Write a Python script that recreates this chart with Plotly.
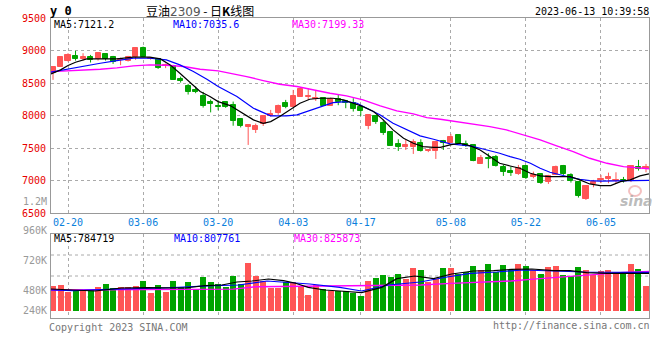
import plotly.graph_objects as go

# ---------------- data ----------------
dates = ["02-16","02-17","02-20","02-21","02-22","02-23","02-24","02-27","02-28",
         "03-01","03-02","03-03","03-06","03-07","03-08","03-09","03-10",
         "03-13","03-14","03-15","03-16","03-17","03-20","03-21","03-22","03-23","03-24",
         "03-27","03-28","03-29","03-30","03-31","04-03","04-04","04-06","04-07",
         "04-10","04-11","04-12","04-13","04-14","04-17","04-18","04-19","04-20","04-21",
         "04-24","04-25","04-26","04-27","04-28","05-04","05-05","05-08","05-09","05-10",
         "05-11","05-12","05-15","05-16","05-17","05-18","05-19","05-22","05-23","05-24",
         "05-25","05-26","05-29","05-30","05-31","06-01","06-02","06-05","06-06","06-07",
         "06-08","06-09","06-12","06-13"]
tick_dates = ["02-20","03-06","03-20","04-03","04-17","05-08","05-22","06-05"]

opens  = [8652,8754,8846,8923,8872,8898,8872,8949,8898,8862,8846,8908,9036,8872,8872,8770,8770,8562,8457,8400,
          8303,8206,8155,8211,8165,7948,7819,7778,7873,7996,8037,8201,8139,8293,8293,8257,8268,8150,8252,8227,
          8201,8139,7842,7996,7883,7755,7565,7525,7525,7575,7458,7463,7617,7575,7704,7565,7550,7258,7355,7371,
          7217,7156,7105,7228,7064,7105,6987,7095,7233,7090,6987,6715,6951,7013,7023,6997,7018,6997,7217,7182]
highs  = [8750,8915,8959,8995,8959,8933,8965,8955,8918,8890,8918,9051,9061,8900,8880,8800,8780,8600,8488,8447,
          8365,8247,8237,8225,8216,7948,7868,7878,8006,8088,8170,8242,8395,8421,8421,8395,8280,8278,8318,8242,
          8268,8165,8020,8000,7935,7760,7637,7627,7637,7637,7480,7610,7627,7719,7704,7617,7560,7396,7422,7396,
          7243,7217,7243,7243,7140,7110,7090,7233,7243,7115,6995,6930,7013,7090,7125,7130,7059,7238,7320,7258]
lows   = [8550,8750,8831,8846,8846,8816,8846,8846,8795,8775,8831,8857,8898,8860,8718,8730,8549,8508,8324,8345,
          8124,8050,8083,8120,7845,7819,7550,7734,7842,7986,8012,8114,8139,8293,8242,8226,8150,8150,8160,8114,
          8063,7996,7791,7873,7704,7535,7458,7473,7412,7448,7440,7335,7473,7575,7565,7520,7300,7258,7192,7218,
          7074,7074,7090,7028,7038,6951,6951,7090,7090,6972,6742,6705,6900,6962,6962,6962,6972,6980,7156,7130]
closes = [8744,8908,8933,8872,8898,8857,8959,8872,8831,8872,8908,9036,8898,8882,8739,8780,8549,8534,8370,8365,
          8155,8185,8135,8130,7924,7845,7855,7840,7996,8027,8150,8139,8303,8406,8303,8273,8150,8252,8216,8201,
          8104,8073,8012,7909,7740,7535,7525,7550,7601,7458,7473,7601,7586,7678,7565,7535,7309,7345,7340,7228,
          7140,7125,7192,7038,7090,6962,7074,7218,7105,7002,6772,6920,6987,7028,7059,7018,6997,7228,7182,7207]
volumes = [520,541,394,440,436,445,499,562,478,490,505,520,625,373,541,400,625,499,604,457,
           709,611,562,506,730,562,1010,730,625,485,485,597,597,499,331,541,457,415,415,415,
           380,310,625,688,752,709,772,667,899,857,604,667,899,899,772,815,941,857,983,815,
           962,857,983,941,857,772,920,941,752,730,920,857,752,836,857,773,773,983,878,520]
volumes = [v * 1000 for v in volumes]

# moving averages (bar index, value)
ma5_idx = [-0.27,1,2,3,4.5,6.3,8.5,10.7,12.9,14.3,15.6,16.9,18.3,19.6,20.9,22,23.6,24.9,26.7,28,29,30.2,31.6,
           32.9,34.2,35.6,37.3,38.7,40,41.3,42.7,44,45.3,46.7,48,49.3,50.7,51.6,52.9,54.2,55.6,56.9,58.2,59.5,
           60.9,62.2,63.6,64.9,66.2,67.5,68.9,70.2,71.5,72.9,74.3,75.6,76.9,78.2,79.4]
ma5_val = [8641,8703,8770,8820,8872,8872,8872,8898,8898,8872,8780,8652,8508,8370,8293,8216,8155,8063,7935,
           7883,7909,7986,8088,8191,8252,8267,8267,8242,8191,8139,8063,7935,7781,7653,7576,7525,7514,7514,
           7550,7576,7535,7473,7371,7268,7227,7192,7115,7074,7064,7064,7064,7013,6951,6925,6925,6987,7013,
           7074,7105]
ma10_idx = [-0.27,1.8,4,6.3,8.5,10.7,12.9,15.1,16.9,18.7,20.5,22,24.5,26.7,29,31.1,32.5,33.8,35.6,37.3,39.1,
            40.5,41.8,43.6,45.3,47.1,48.9,50.7,51.6,52.9,54.2,55.6,56.9,58.2,59.5,60.9,62.2,63.6,64.9,66.2,
            67.5,68.9,70.2,71.5,72.9,75.6,78.2,79.4]
ma10_val = [8667,8713,8754,8805,8846,8882,8882,8857,8780,8677,8559,8447,8293,8114,7996,7996,8011,8063,8139,
            8201,8216,8191,8114,8011,7883,7781,7689,7637,7610,7566,7550,7535,7499,7463,7422,7371,7330,7268,
            7192,7130,7090,7054,7023,7002,6995,6995,6998,7005]
ma30_idx = [-0.27,4,6.3,8.5,10.7,12.9,15.1,17.4,19.6,22,23.6,25.8,28,30.2,32.5,34.7,36.9,39.1,41.3,43.6,45.8,
            48,49.8,51.6,53.8,56,58.2,60.4,62.7,64.9,67.1,69.3,71.5,73.8,76,78.2,79.4]
ma30_val = [8677,8693,8713,8734,8764,8780,8775,8754,8713,8688,8652,8600,8539,8483,8447,8395,8344,8303,8242,
            8150,8073,8027,7970,7945,7909,7873,7832,7781,7704,7627,7535,7448,7345,7268,7217,7192,7185]

vma5_idx = [-0.27,5.6,9.1,12.5,17.6,20.2,22.5,24.5,26.5,28.7,30.7,32.2,34,36.2,38.2,41.1,43.8,45.8,48.2,50.7,
            53.1,56,58.7,61.1,63.8,66.7,68.9,71.1,73.8,77.3,79.4]
vma5_val = [457,415,478,485,478,527,541,604,625,667,632,583,492,436,415,380,492,674,730,674,772,836,843,870,
            878,843,843,800,787,787,785]
vma10_idx = [-0.27,2.7,7.4,14.7,21.4,24.7,28.5,34.2,38.2,41.1,44.7,48.9,52.5,55.6,59.1,62.6,66.7,70.7,76.2,79.4]
vma10_val = [436,422,450,478,527,541,625,562,492,415,541,604,709,787,815,857,836,815,808,808]
vma30_idx = [-0.27,12,24,27,36,44,49,53,57,61,64,68,72,76,79.4]
vma30_val = [436,448,455,505,515,520,541,575,600,625,665,705,760,805,826]
vma5_val = [v * 1000 for v in vma5_val]
vma10_val = [v * 1000 for v in vma10_val]
vma30_val = [v * 1000 for v in vma30_val]

price_ticks = [6500, 7000, 7500, 8000, 8500, 9000, 9500]
vol_tick_labels = ["960K", "720K", "480K", "240K"]
ma_labels = ["MA5:7121.2", "MA10:7035.6", "MA30:7199.33"]
vma_labels = ["MA5:784719", "MA10:807761", "MA30:825873"]

# ---------------- styles / geometry ----------------
RED, GREEN = "#ff5555", "#00a400"
MONO = "DejaVu Sans Mono"
W, H = 660, 360
PL, PR, PT, PB = 51, 649, 18, 318


def px(x):
    return (x - PL) / (PR - PL)


def py(y):
    return (PB - y) / (PB - PT)


n = len(dates)
idx = list(range(n))
up = [c >= o for o, c in zip(opens, closes)]
tickvals = [dates.index(d) for d in tick_dates]

fig = go.Figure()

# candle wicks
for flag, col in ((True, RED), (False, GREEN)):
    wx, wy = [], []
    for i in idx:
        if up[i] == flag:
            wx += [i, i, None]
            wy += [lows[i], highs[i], None]
    fig.add_trace(go.Scatter(x=wx, y=wy, mode="lines", line=dict(color=col, width=1),
                             hoverinfo="skip", xaxis="x", yaxis="y"))

# candle bodies
fig.add_trace(go.Bar(
    x=idx,
    y=[abs(c - o) for o, c in zip(opens, closes)],
    base=[min(o, c) for o, c in zip(opens, closes)],
    width=0.68,
    marker=dict(color=[RED if u else GREEN for u in up],
                line=dict(color=[RED if u else GREEN for u in up], width=1)),
    xaxis="x", yaxis="y", hoverinfo="skip"))

# price MAs
for xs, ys, col, w in ((ma30_idx, ma30_val, "#ff00ff", 1.4),
                       (ma10_idx, ma10_val, "#0000ff", 1.2),
                       (ma5_idx, ma5_val, "#000000", 1.2)):
    fig.add_trace(go.Scatter(x=xs, y=ys, mode="lines", line=dict(color=col, width=w),
                             xaxis="x", yaxis="y", hoverinfo="skip"))

# volume bars
fig.add_trace(go.Bar(x=idx, y=volumes, width=0.8,
                     marker=dict(color=[RED if u else GREEN for u in up], line=dict(width=0)),
                     xaxis="x2", yaxis="y2", hoverinfo="skip"))
for xs, ys, col, w in ((vma30_idx, vma30_val, "#ff00ff", 1.4),
                       (vma10_idx, vma10_val, "#0000ff", 1.2),
                       (vma5_idx, vma5_val, "#000000", 1.2)):
    fig.add_trace(go.Scatter(x=xs, y=ys, mode="lines", line=dict(color=col, width=w),
                             xaxis="x2", yaxis="y2", hoverinfo="skip"))

# volume axis: zero at pixel 310.7, 0.0475 px per thousand
vdom_top = py(234)
vpx = PB - 234  # 84 px
span = vpx / 0.0475 * 1000
zero_frac = (PB - 310.7) / vpx
vrange = [-zero_frac * span, (1 - zero_frac) * span]

grid = dict(showgrid=True, gridcolor="#aaaaaa", griddash="dot", gridwidth=1)
frame = dict(showline=True, linecolor="#999999", linewidth=1, mirror=True, zeroline=False)

fig.update_layout(
    width=W, height=H, paper_bgcolor="white", plot_bgcolor="white",
    margin=dict(l=PL, r=W - PR, t=PT, b=H - PB, autoexpand=False),
    showlegend=False, barmode="overlay", bargap=0,
    xaxis=dict(domain=[0, 1], range=[-0.27, 79.4], anchor="y", tickvals=tickvals, ticktext=tick_dates,
               tickfont=dict(family=MONO, size=10, color="#0a80dc"), ticks="", automargin=False,
               **grid, **frame),
    yaxis=dict(domain=[py(213.3), 1], range=[6500, 9500], tickvals=price_ticks,
               ticktext=[str(t) for t in price_ticks], ticks="", ticklabelstandoff=2, automargin=False,
               tickfont=dict(family=MONO, size=10, color="#e80000"), **grid, **frame),
    xaxis2=dict(domain=[0, 1], range=[-0.27, 79.4], anchor="y2", matches="x", tickvals=tickvals,
                showticklabels=False, ticks="", automargin=False, **grid, **frame),
    yaxis2=dict(domain=[0, vdom_top], range=vrange, showticklabels=False, showgrid=False,
                ticks="", automargin=False, **frame),
)

shapes = []
for f in (0.25, 0.5, 0.75):
    shapes.append(dict(type="line", xref="x2 domain", yref="y2 domain", x0=0, x1=1, y0=f, y1=f,
                       line=dict(color="#aaaaaa", width=1, dash="dot"), layer="below"))
# sina watermark eye
shapes.append(dict(type="circle", xref="paper", yref="paper", x0=px(629), x1=px(641), y0=py(196), y1=py(186),
                   line=dict(color="rgba(235,140,140,0.55)", width=2)))
fig.update_layout(shapes=shapes)

ann = []


def text(x, y, s, color="#000", size=10, anchor="left", family=MONO):
    ann.append(dict(x=px(x), y=py(y), xref="paper", yref="paper", text=s, showarrow=False,
                    xanchor=anchor, yanchor="middle", borderpad=0,
                    font=dict(family=family, size=size, color=color)))


text(49, 11, "<b>y 0</b>", size=12)
text(200, 10, '豆油<span style="font-family:DejaVu Sans;color:#555">2309</span> - 日<b>K</b>线图',
     size=12, anchor="center", family="Noto Sans CJK SC")
text(650, 12, "2023-06-13 10:39:58", size=10, anchor="right")
for x, s, c in zip((53, 172, 291), ma_labels, ("#000000", "#0000ff", "#ff00ff")):
    text(x, 24, s, color=c)
for x, s, c in zip((53, 173, 293), vma_labels, ("#000000", "#0000ff", "#ff00ff")):
    text(x, 238.5, s, color=c)
for y, s in zip((230.7, 260, 290, 310), vol_tick_labels):
    text(48, y, s, color="#999999", anchor="right")
text(48, 201, "1.2M", color="#999999", anchor="right")
text(48, 327, "Copyright 2023 SINA.COM", color="#777777")
text(651, 325, "http://finance.sina.com.cn", color="#777777", anchor="right")
text(636, 201, "<b><i>sina</i></b>", color="rgba(170,170,170,0.8)", size=14, anchor="center",
     family="DejaVu Sans")
fig.update_layout(annotations=ann)

fig.write_html("out.html", config={"displayModeBar": False},
               post_script="document.body.style.margin='0';document.body.style.overflow='hidden';")
